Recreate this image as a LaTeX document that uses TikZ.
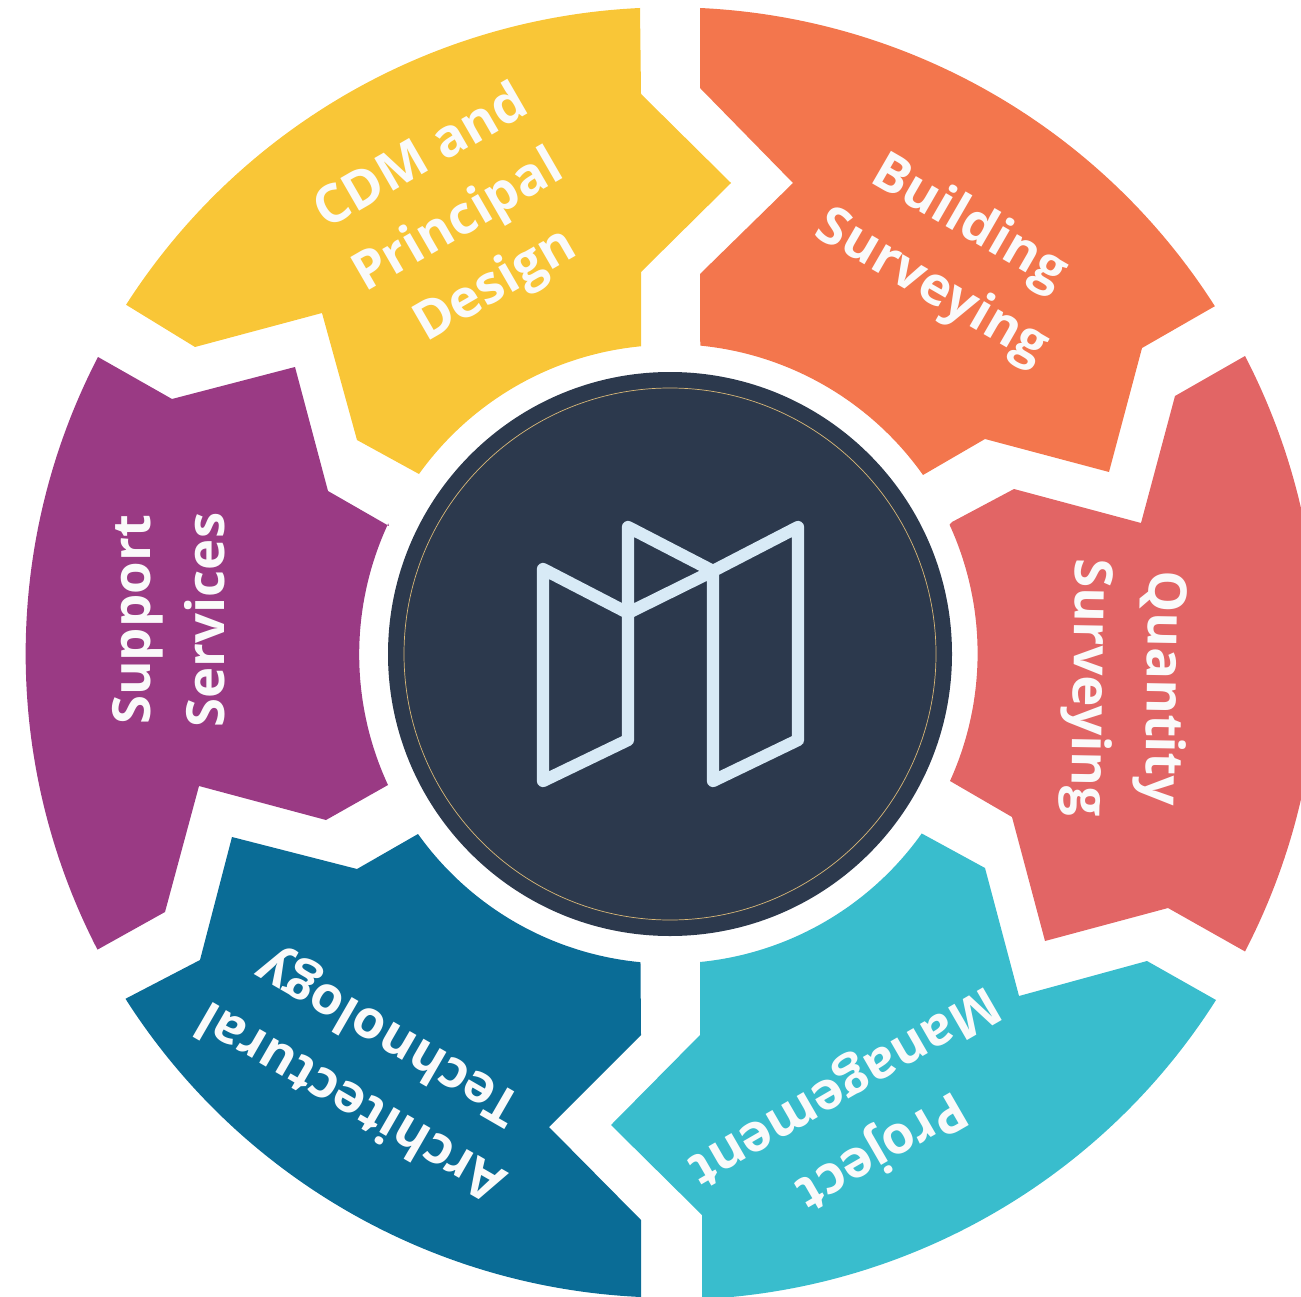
\documentclass[tikz,border=0pt]{standalone}
\usepackage{fontspec}
\setmainfont{Open Sans}
\definecolor{cyellow}{HTML}{F9C637}
\definecolor{corange}{HTML}{F3764D}
\definecolor{cred}{HTML}{E26565}
\definecolor{cteal}{HTML}{39BDCD}
\definecolor{cblue}{HTML}{0A6C96}
\definecolor{cpurple}{HTML}{9A3A84}
\definecolor{cdark}{HTML}{2C394D}
\definecolor{cline}{HTML}{D8EAF6}
\definecolor{cring}{HTML}{D9B878}
\tikzset{
  seg/.style={draw=none},
  lab/.style={text=white!98!black,font=\fontsize{30}{42}\selectfont\bfseries,align=center,inner sep=0pt},
  logo/.style={draw=cline,line width=7pt,line join=round,line cap=round}
}
\begin{document}
\begin{tikzpicture}[x=0.02cm,y=-0.02cm]
\useasboundingbox (0,0) rectangle (1301,1297);
\clip (0,0) rectangle (1301,1297);
% yellow
\fill[cyellow,seg] (640,8) arc[start angle=-92.66,end angle=-147.35,radius=646] -- (195,347) -- (322,313) -- (357,440) -- (419,474) arc[start angle=-144.4,end angle=-95.4,radius=309] -- (641,272) -- (731,183) -- (641,94) -- cycle;
% orange
\fill[corange,seg] (700,8) arc[start angle=-87.34,end angle=-32.5,radius=646] -- (1142,348) -- (1109,472) -- (985,439) -- (923,475) arc[start angle=-35.3,end angle=-84.4,radius=310] -- (700,274) -- (793,183) -- (700,88) -- cycle;
% red
\fill[cred,seg] (1245,356) arc[start angle=-27.4,end angle=27.4,radius=647] -- (1168,908) -- (1045,941) -- (1012,817) -- (950,781) arc[start angle=24.4,end angle=-24.6,radius=309] -- (952,522) -- (1014,489) -- (1141,523) -- (1175,396) -- cycle;
% teal
\fill[cteal,seg] (1216,1000) arc[start angle=32.4,end angle=87.2,radius=646] -- (702,1215) -- (611,1125) -- (700,1035) -- (700,962) arc[start angle=84.4,end angle=35.4,radius=309] -- (985,868) -- (1019,996) -- (1147,961) -- cycle;
% blue
\fill[cblue,seg] (641,1297) arc[start angle=92.6,end angle=147.5,radius=646] -- (200,960) -- (232,837) -- (357,869) -- (418,834) arc[start angle=144.5,end angle=95.4,radius=309] -- (641,1035) -- (549,1127) -- (641,1220) -- cycle;
% purple
\fill[cpurple,seg] (98,357) arc[start angle=-152.6,end angle=-207.3,radius=645] -- (165,912) -- (199,786) -- (326,820) -- (388,785) arc[start angle=-204.9,end angle=-155,radius=310] -- (389,526) -- (328,491) -- (295,367) -- (172,399) -- cycle;
% centre
\fill[cdark] (670,654) circle[radius=282];
\draw[cring,line width=0.4pt] (670,654) circle[radius=266];
% logo
\draw[logo] (543,569) -- (628,613) -- (628,740) -- (543,781) -- cycle;
\draw[logo] (628,613) -- (628,527) -- (713,571) -- (713,781) -- (798,740) -- (798,527) -- (713,571) -- cycle;
% labels
\node[lab,rotate=30] (cdm) at (459,223) {CDM and\\Principal\\Design};
\node[lab,rotate=-30] (bs) at (950,256) {Building\\Surveying};
\node[lab,rotate=-91] (qs) at (1124,688) {Quantity\\Surveying};
\node[lab,rotate=210] (pm) at (862,1117) {Project\\Management};
\node[lab,rotate=150] (at) at (371,1067) {Architectural\\Technology};
\node[lab,rotate=90] (ss) at (169,620) {Support\\Services};
\end{tikzpicture}
\end{document}
